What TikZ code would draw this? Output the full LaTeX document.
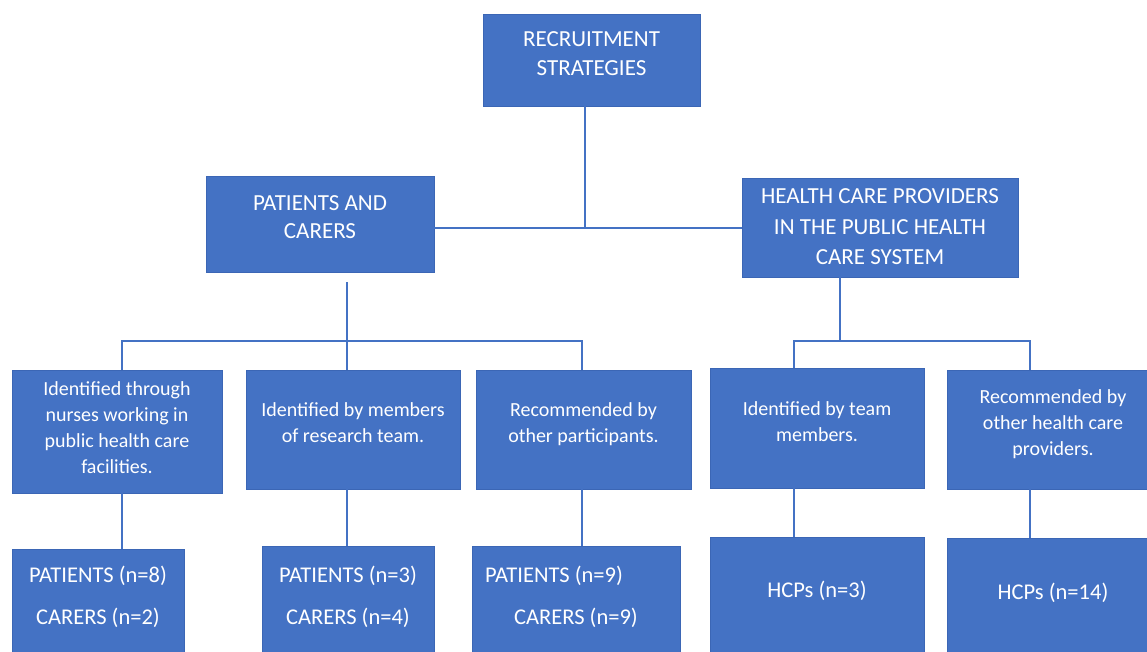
\documentclass[tikz,border=0pt]{standalone}
\usepackage{fontspec}
\setmainfont{Carlito}
\definecolor{boxblue}{HTML}{4472C4}
\definecolor{boxedge}{HTML}{3B66B5}
\definecolor{linkblue}{HTML}{4472C4}
% width, height, first baseline from top, font size, line skip, text
\newcommand\bx[6]{\parbox[c][#2pt][t]{#1pt}{\fontsize{#4}{#5}\selectfont\vspace*{\dimexpr#3pt-20pt\relax}\centering\rule{0pt}{20pt}#6}}
\tikzset{
  box/.style={fill=boxblue, draw=boxedge, line width=0.6pt, inner sep=0pt, text=white},
  link/.style={draw=linkblue, line width=1.6pt}
}
\begin{document}
\begin{tikzpicture}[x=1pt,y=-1pt]
\useasboundingbox (0,0) rectangle (1147,652);
\fill[white] (0,0) rectangle (1147,652);
\clip (0,0) rectangle (1147,652);

% level 0 and 1
\node[box] (top) at (591.5,60) {\bx{217}{92}{33}{23}{29}{RECRUITMENT\\STRATEGIES}};
\node[box] (pc) at (320,224) {\bx{228}{96}{34}{23}{29}{PATIENTS AND\\CARERS}};
\node[box] (hcp) at (880,227.5) {\bx{276}{99}{26}{23}{30}{HEALTH CARE PROVIDERS\\IN THE PUBLIC HEALTH\\CARE SYSTEM}};

% level 2
\node[box] (r2a) at (117,431.5) {\bx{210}{123}{25}{20}{26}{Identified through\\nurses working in\\public health care\\facilities.}};
\node[box] (r2b) at (353,429.5) {\bx{214}{119}{46}{20}{26}{Identified by members\\of research team.}};
\node[box] (r2c) at (583.5,429.5) {\bx{215}{119}{46}{20}{26}{Recommended by\\other participants.}};
\node[box] (r2d) at (817,428) {\bx{214}{120}{47}{20}{26}{Identified by team\\members.}};
\node[box] (r2e) at (1053,429.5) {\bx{212}{119}{33}{20}{26}{Recommended by\\other health care\\providers.}};

% level 3
\node[box] (r3a) at (98,624.5) {\bx{172}{151}{33}{22.5}{42}{PATIENTS (n=8)\\CARERS (n=2)}};
\node[box] (r3b) at (348,623) {\bx{172}{154}{36}{22.5}{42}{PATIENTS (n=3)\\CARERS (n=4)}};
\node[box] (r3c) at (576,623) {\bx{208}{154}{36}{22.5}{42}{PATIENTS (n=9)\kern44pt\\CARERS (n=9)}};
\node[box] (r3d) at (817,618.5) {\bx{214}{163}{60}{22.5}{42}{HCPs (n=3)}};
\node[box] (r3e) at (1053,619) {\bx{212}{162}{61}{22.5}{42}{HCPs (n=14)}};

% junction coordinates
\coordinate (jt) at (585,228);
\coordinate (ps) at (347,282);
\coordinate (xa) at (122,341);
\coordinate (xb) at (347,341);
\coordinate (xc) at (582,341);
\coordinate (hx) at (840,341);
\coordinate (xd) at (794,341);
\coordinate (xe) at (1030,341);

% connectors
\draw[link] (top.south -| jt) -- (jt);
\draw[link] (pc.east |- jt) -- (hcp.west |- jt);
\draw[link] (ps) -- (xb);
\draw[link] (r2a.north -| xa) -- (xa) -- (xc) -- (r2c.north -| xc);
\draw[link] (xb) -- (r2b.north -| xb);
\draw[link] (hcp.south -| hx) -- (hx);
\draw[link] (r2d.north -| xd) -- (xd) -- (xe) -- (r2e.north -| xe);
\draw[link] (r2a.south -| xa) -- (r3a.north -| xa);
\draw[link] (r2b.south -| xb) -- (r3b.north -| xb);
\draw[link] (r2c.south -| xc) -- (r3c.north -| xc);
\draw[link] (r2d.south -| xd) -- (r3d.north -| xd);
\draw[link] (r2e.south -| xe) -- (r3e.north -| xe);
\end{tikzpicture}
\end{document}
